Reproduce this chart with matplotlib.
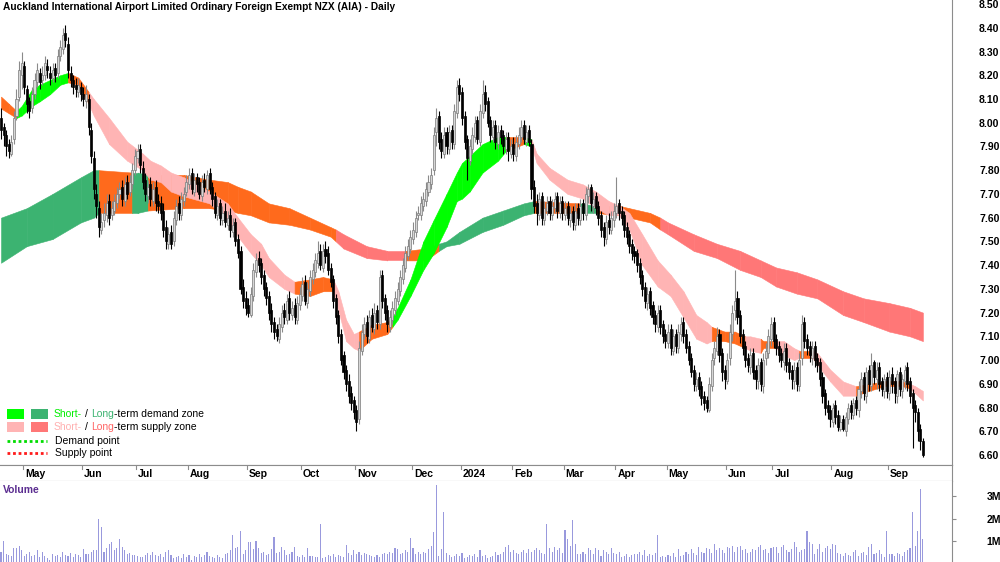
import numpy as np
import matplotlib
matplotlib.use("Agg")
import matplotlib.pyplot as plt
from matplotlib.patches import Rectangle
from matplotlib.lines import Line2D

plt.rcParams['font.family'] = ['Liberation Sans', 'DejaVu Sans']

TITLE = "Auckland International Airport Limited Ordinary Foreign Exempt NZX (AIA) - Daily"

# daily candles, 19 Apr 2023 .. 19 Sep 2024 (bar index 0..358)
opens = [
    8.02, 7.98, 7.95, 7.91, 7.87, 7.93, 8.03, 8.11, 8.20, 8.24,
    8.14, 8.09, 8.06, 8.12, 8.17, 8.21, 8.18, 8.20, 8.24, 8.21,
    8.19, 8.23, 8.21, 8.28, 8.31, 8.38, 8.33, 8.21, 8.18, 8.16,
    8.13, 8.15, 8.12, 8.09, 8.10, 7.97, 7.85, 7.70, 7.64, 7.55,
    7.59, 7.61, 7.67, 7.61, 7.63, 7.66, 7.70, 7.73, 7.67, 7.75,
    7.71, 7.74, 7.80, 7.85, 7.89, 7.81, 7.76, 7.69, 7.74, 7.67,
    7.73, 7.67, 7.66, 7.63, 7.56, 7.49, 7.54, 7.50, 7.59, 7.66,
    7.61, 7.67, 7.71, 7.74, 7.79, 7.71, 7.77, 7.75, 7.69, 7.76,
    7.72, 7.79, 7.73, 7.69, 7.61, 7.66, 7.59, 7.63, 7.57, 7.61,
    7.54, 7.58, 7.51, 7.46, 7.31, 7.26, 7.23, 7.19, 7.27, 7.37,
    7.43, 7.41, 7.36, 7.31, 7.27, 7.21, 7.16, 7.13, 7.09, 7.14,
    7.21, 7.17, 7.26, 7.19, 7.23, 7.17, 7.23, 7.27, 7.33, 7.24,
    7.29, 7.34, 7.37, 7.41, 7.46, 7.39, 7.47, 7.45, 7.39, 7.34,
    7.26, 7.19, 7.11, 7.02, 6.96, 6.91, 6.86, 6.83, 6.79, 6.75,
    7.04, 7.11, 7.16, 7.09, 7.19, 7.13, 7.21, 7.15, 7.36, 7.26,
    7.21, 7.14, 7.17, 7.21, 7.25, 7.29, 7.34, 7.39, 7.44, 7.47,
    7.51, 7.54, 7.61, 7.61, 7.65, 7.67, 7.71, 7.74, 7.80, 7.96,
    8.03, 7.93, 7.87, 7.96, 7.89, 7.97, 7.91, 8.04, 8.16, 8.13,
    8.03, 7.93, 7.84, 7.89, 7.94, 8.01, 7.92, 8.04, 8.13, 8.09,
    8.01, 7.94, 7.99, 7.91, 7.97, 7.95, 7.89, 7.94, 7.87, 7.91,
    7.86, 7.91, 7.94, 7.99, 7.92, 7.97, 7.91, 7.73, 7.66, 7.61,
    7.69, 7.59, 7.63, 7.67, 7.61, 7.64, 7.69, 7.62, 7.67, 7.61,
    7.65, 7.59, 7.63, 7.57, 7.64, 7.59, 7.66, 7.61, 7.69, 7.73,
    7.65, 7.69, 7.65, 7.61, 7.56, 7.51, 7.59, 7.55, 7.59, 7.62,
    7.66, 7.63, 7.61, 7.56, 7.53, 7.49, 7.46, 7.45, 7.41, 7.36,
    7.31, 7.24, 7.29, 7.23, 7.19, 7.14, 7.21, 7.15, 7.11, 7.07,
    7.13, 7.04, 7.11, 7.05, 7.11, 7.16, 7.11, 7.06, 7.01, 6.96,
    6.89, 6.93, 6.89, 6.85, 6.83, 6.79, 6.89, 7.01, 7.04, 7.11,
    7.03, 6.96, 6.91, 7.01, 7.11, 7.21, 7.26, 7.19, 7.11, 7.06,
    7.01, 6.97, 7.03, 6.96, 6.91, 6.99, 6.89, 7.01, 7.03, 7.09,
    7.16, 7.09, 7.06, 7.03, 6.99, 7.05, 6.99, 6.96, 6.91, 6.97,
    6.89, 7.01, 7.16, 7.09, 7.06, 7.01, 7.06, 7.01, 6.99, 6.93,
    6.86, 6.81, 6.79, 6.74, 6.81, 6.77, 6.71, 6.75, 6.70, 6.75,
    6.81, 6.77, 6.83, 6.79, 6.87, 6.93, 6.85, 6.96, 6.89, 6.99,
    6.92, 6.97, 6.91, 6.87, 6.93, 6.86, 6.94, 6.91, 6.85, 6.95,
    6.87, 6.91, 6.97, 6.91, 6.86, 6.81, 6.78, 6.71, 6.66,
]
highs = [
    8.06, 8.00, 7.97, 7.93, 7.95, 8.05, 8.14, 8.26, 8.30, 8.26,
    8.16, 8.11, 8.15, 8.21, 8.25, 8.23, 8.24, 8.28, 8.27, 8.24,
    8.25, 8.25, 8.31, 8.35, 8.40, 8.41, 8.36, 8.24, 8.20, 8.19,
    8.19, 8.17, 8.15, 8.16, 8.12, 8.00, 7.88, 7.74, 7.67, 7.62,
    7.66, 7.70, 7.70, 7.67, 7.70, 7.73, 7.75, 7.76, 7.77, 7.78,
    7.78, 7.83, 7.89, 7.91, 7.91, 7.84, 7.79, 7.76, 7.77, 7.75,
    7.76, 7.70, 7.69, 7.66, 7.59, 7.56, 7.57, 7.63, 7.68, 7.69,
    7.71, 7.73, 7.78, 7.81, 7.81, 7.79, 7.79, 7.77, 7.78, 7.79,
    7.80, 7.81, 7.75, 7.71, 7.68, 7.68, 7.65, 7.66, 7.63, 7.64,
    7.60, 7.60, 7.53, 7.48, 7.34, 7.29, 7.26, 7.31, 7.41, 7.45,
    7.46, 7.43, 7.38, 7.33, 7.29, 7.24, 7.18, 7.15, 7.18, 7.23,
    7.24, 7.28, 7.29, 7.25, 7.26, 7.27, 7.31, 7.35, 7.36, 7.33,
    7.38, 7.41, 7.45, 7.50, 7.49, 7.49, 7.50, 7.48, 7.41, 7.36,
    7.28, 7.21, 7.13, 7.04, 6.98, 6.94, 6.89, 6.85, 6.81, 7.08,
    7.15, 7.18, 7.19, 7.21, 7.22, 7.24, 7.23, 7.38, 7.38, 7.28,
    7.23, 7.21, 7.25, 7.29, 7.33, 7.38, 7.43, 7.48, 7.51, 7.55,
    7.58, 7.63, 7.65, 7.69, 7.71, 7.75, 7.78, 7.81, 7.98, 8.06,
    8.05, 7.96, 7.98, 7.98, 7.99, 7.99, 8.08, 8.18, 8.19, 8.15,
    8.05, 7.95, 7.93, 7.98, 8.03, 8.03, 8.08, 8.18, 8.16, 8.11,
    8.03, 8.01, 8.01, 7.99, 7.99, 7.97, 7.96, 7.96, 7.93, 7.94,
    7.95, 7.98, 8.01, 8.01, 7.99, 7.99, 7.93, 7.76, 7.70, 7.71,
    7.71, 7.67, 7.69, 7.69, 7.68, 7.71, 7.71, 7.69, 7.69, 7.67,
    7.67, 7.65, 7.65, 7.66, 7.66, 7.68, 7.68, 7.73, 7.74, 7.74,
    7.71, 7.71, 7.67, 7.63, 7.58, 7.61, 7.62, 7.63, 7.66, 7.77,
    7.68, 7.65, 7.63, 7.58, 7.55, 7.51, 7.48, 7.47, 7.43, 7.38,
    7.33, 7.31, 7.31, 7.25, 7.21, 7.23, 7.23, 7.17, 7.13, 7.15,
    7.15, 7.13, 7.13, 7.15, 7.18, 7.18, 7.13, 7.08, 7.03, 6.98,
    6.95, 6.95, 6.91, 6.87, 6.85, 6.93, 7.03, 7.08, 7.14, 7.13,
    7.05, 6.98, 7.03, 7.15, 7.23, 7.38, 7.29, 7.21, 7.13, 7.08,
    7.03, 7.05, 7.05, 6.98, 7.01, 7.01, 7.03, 7.07, 7.13, 7.18,
    7.18, 7.11, 7.08, 7.05, 7.07, 7.07, 7.01, 6.98, 6.99, 6.99,
    7.03, 7.19, 7.18, 7.11, 7.08, 7.08, 7.08, 7.03, 7.01, 6.95,
    6.88, 6.83, 6.81, 6.82, 6.83, 6.79, 6.77, 6.77, 6.78, 6.82,
    6.83, 6.84, 6.85, 6.91, 6.95, 6.95, 6.97, 6.98, 7.03, 7.00,
    6.99, 6.99, 6.93, 6.94, 6.95, 6.96, 6.97, 6.93, 6.96, 6.97,
    6.94, 6.98, 6.99, 6.93, 6.88, 6.83, 6.80, 6.73, 6.67,
]
lows = [
    7.93, 7.90, 7.86, 7.85, 7.86, 7.91, 8.01, 8.09, 8.14, 8.12,
    8.04, 8.02, 8.04, 8.10, 8.15, 8.14, 8.16, 8.18, 8.19, 8.16,
    8.17, 8.17, 8.19, 8.26, 8.29, 8.32, 8.19, 8.15, 8.12, 8.11,
    8.11, 8.09, 8.07, 8.06, 7.95, 7.83, 7.68, 7.60, 7.52, 7.53,
    7.56, 7.58, 7.57, 7.59, 7.61, 7.64, 7.68, 7.65, 7.65, 7.68,
    7.69, 7.72, 7.78, 7.83, 7.79, 7.72, 7.67, 7.66, 7.65, 7.65,
    7.63, 7.62, 7.59, 7.52, 7.47, 7.47, 7.47, 7.48, 7.57, 7.59,
    7.59, 7.65, 7.69, 7.72, 7.70, 7.69, 7.71, 7.68, 7.67, 7.71,
    7.70, 7.70, 7.65, 7.60, 7.59, 7.57, 7.57, 7.56, 7.55, 7.52,
    7.52, 7.48, 7.43, 7.28, 7.22, 7.19, 7.18, 7.18, 7.25, 7.35,
    7.37, 7.32, 7.27, 7.23, 7.17, 7.12, 7.09, 7.08, 7.07, 7.12,
    7.15, 7.15, 7.17, 7.17, 7.15, 7.15, 7.21, 7.25, 7.23, 7.22,
    7.27, 7.32, 7.35, 7.39, 7.38, 7.37, 7.41, 7.36, 7.31, 7.22,
    7.15, 7.07, 6.98, 6.92, 6.87, 6.82, 6.79, 6.75, 6.70, 6.73,
    7.02, 7.09, 7.07, 7.07, 7.12, 7.11, 7.13, 7.13, 7.22, 7.17,
    7.12, 7.12, 7.15, 7.19, 7.23, 7.27, 7.32, 7.37, 7.42, 7.45,
    7.49, 7.52, 7.59, 7.59, 7.63, 7.65, 7.69, 7.72, 7.78, 7.90,
    7.89, 7.85, 7.85, 7.87, 7.87, 7.89, 7.89, 8.02, 8.09, 7.99,
    7.89, 7.76, 7.82, 7.87, 7.92, 7.91, 7.90, 8.02, 8.05, 7.98,
    7.92, 7.92, 7.89, 7.89, 7.91, 7.87, 7.87, 7.84, 7.85, 7.84,
    7.84, 7.89, 7.92, 7.91, 7.90, 7.90, 7.68, 7.62, 7.57, 7.59,
    7.57, 7.57, 7.61, 7.59, 7.59, 7.62, 7.60, 7.60, 7.59, 7.59,
    7.57, 7.56, 7.55, 7.55, 7.57, 7.57, 7.59, 7.59, 7.66, 7.63,
    7.62, 7.61, 7.57, 7.52, 7.48, 7.49, 7.53, 7.53, 7.56, 7.60,
    7.59, 7.57, 7.52, 7.49, 7.45, 7.42, 7.41, 7.37, 7.32, 7.27,
    7.22, 7.21, 7.19, 7.15, 7.12, 7.12, 7.11, 7.07, 7.05, 7.05,
    7.02, 7.02, 7.03, 7.03, 7.08, 7.07, 7.03, 6.98, 6.93, 6.87,
    6.87, 6.85, 6.81, 6.79, 6.78, 6.78, 6.87, 6.98, 7.02, 6.99,
    6.91, 6.88, 6.90, 6.98, 7.08, 7.17, 7.15, 7.07, 7.02, 6.97,
    6.95, 6.94, 6.92, 6.88, 6.88, 6.87, 6.86, 6.98, 7.01, 7.06,
    7.05, 7.02, 6.99, 6.97, 6.96, 6.95, 6.92, 6.88, 6.88, 6.87,
    6.87, 6.98, 7.05, 7.02, 6.99, 6.98, 6.97, 6.95, 6.89, 6.82,
    6.77, 6.75, 6.72, 6.72, 6.73, 6.70, 6.70, 6.70, 6.68, 6.73,
    6.75, 6.75, 6.77, 6.76, 6.84, 6.83, 6.82, 6.87, 6.87, 6.90,
    6.88, 6.87, 6.85, 6.84, 6.84, 6.83, 6.86, 6.82, 6.82, 6.85,
    6.84, 6.88, 6.87, 6.82, 6.63, 6.74, 6.66, 6.62, 6.59,
]
closes = [
    7.97, 7.95, 7.90, 7.88, 7.92, 8.02, 8.10, 8.22, 8.25, 8.15,
    8.08, 8.05, 8.12, 8.18, 8.22, 8.17, 8.20, 8.25, 8.22, 8.19,
    8.22, 8.20, 8.28, 8.32, 8.37, 8.35, 8.22, 8.18, 8.15, 8.14,
    8.16, 8.12, 8.10, 8.12, 7.98, 7.86, 7.72, 7.65, 7.56, 7.58,
    7.62, 7.66, 7.60, 7.64, 7.67, 7.70, 7.72, 7.68, 7.74, 7.70,
    7.75, 7.80, 7.86, 7.88, 7.82, 7.75, 7.70, 7.73, 7.68, 7.72,
    7.66, 7.65, 7.62, 7.55, 7.50, 7.53, 7.49, 7.60, 7.65, 7.62,
    7.68, 7.70, 7.75, 7.78, 7.72, 7.76, 7.74, 7.70, 7.75, 7.73,
    7.78, 7.72, 7.68, 7.62, 7.65, 7.60, 7.62, 7.58, 7.60, 7.55,
    7.57, 7.50, 7.45, 7.30, 7.25, 7.22, 7.20, 7.28, 7.38, 7.42,
    7.40, 7.35, 7.30, 7.26, 7.20, 7.15, 7.12, 7.10, 7.15, 7.20,
    7.18, 7.25, 7.20, 7.22, 7.18, 7.24, 7.28, 7.32, 7.25, 7.30,
    7.35, 7.38, 7.42, 7.45, 7.40, 7.46, 7.44, 7.38, 7.33, 7.25,
    7.18, 7.10, 7.00, 6.95, 6.90, 6.85, 6.82, 6.78, 6.74, 7.05,
    7.12, 7.15, 7.10, 7.18, 7.14, 7.20, 7.16, 7.35, 7.25, 7.20,
    7.15, 7.18, 7.22, 7.26, 7.30, 7.35, 7.40, 7.45, 7.48, 7.52,
    7.55, 7.60, 7.62, 7.66, 7.68, 7.72, 7.75, 7.78, 7.95, 8.02,
    7.92, 7.88, 7.95, 7.90, 7.96, 7.92, 8.05, 8.15, 8.12, 8.02,
    7.92, 7.85, 7.90, 7.95, 8.00, 7.93, 8.05, 8.12, 8.08, 8.00,
    7.95, 7.98, 7.92, 7.96, 7.94, 7.90, 7.93, 7.88, 7.90, 7.87,
    7.92, 7.95, 7.98, 7.93, 7.96, 7.92, 7.72, 7.65, 7.62, 7.68,
    7.60, 7.64, 7.66, 7.62, 7.65, 7.68, 7.63, 7.66, 7.62, 7.64,
    7.60, 7.62, 7.58, 7.63, 7.60, 7.65, 7.62, 7.70, 7.72, 7.66,
    7.68, 7.64, 7.60, 7.55, 7.52, 7.58, 7.56, 7.60, 7.63, 7.65,
    7.62, 7.60, 7.55, 7.52, 7.48, 7.45, 7.44, 7.40, 7.35, 7.30,
    7.25, 7.28, 7.22, 7.18, 7.15, 7.20, 7.14, 7.10, 7.08, 7.12,
    7.05, 7.10, 7.06, 7.12, 7.15, 7.10, 7.05, 7.00, 6.95, 6.90,
    6.92, 6.88, 6.84, 6.82, 6.80, 6.90, 7.00, 7.05, 7.10, 7.02,
    6.95, 6.92, 7.00, 7.12, 7.20, 7.25, 7.18, 7.10, 7.05, 7.00,
    6.98, 7.02, 6.95, 6.92, 6.98, 6.90, 7.00, 7.04, 7.10, 7.15,
    7.08, 7.05, 7.02, 7.00, 7.04, 6.98, 6.95, 6.92, 6.96, 6.90,
    7.00, 7.15, 7.08, 7.05, 7.02, 7.05, 7.00, 6.98, 6.92, 6.85,
    6.80, 6.78, 6.75, 6.80, 6.76, 6.72, 6.74, 6.71, 6.76, 6.80,
    6.78, 6.82, 6.80, 6.88, 6.92, 6.86, 6.95, 6.90, 6.98, 6.93,
    6.96, 6.90, 6.88, 6.92, 6.87, 6.93, 6.90, 6.86, 6.94, 6.88,
    6.92, 6.96, 6.90, 6.85, 6.80, 6.78, 6.70, 6.66, 6.60,
]
volume_m = [
    0.55, 1.00, 0.45, 0.40, 0.35, 0.70, 0.70, 0.80, 0.60, 0.35,
    0.45, 0.55, 0.35, 0.40, 0.60, 0.30, 0.55, 0.35, 0.25, 0.20,
    0.45, 0.35, 0.40, 0.30, 0.55, 0.40, 0.35, 0.50, 0.30, 0.45,
    0.40, 0.30, 0.65, 0.45, 0.45, 0.55, 0.60, 0.60, 2.00, 1.65,
    0.55, 0.70, 0.90, 0.95, 0.60, 0.70, 1.10, 0.75, 0.60, 0.45,
    0.50, 0.40, 0.40, 0.35, 0.30, 0.30, 0.40, 0.50, 0.40, 0.55,
    0.40, 0.35, 0.45, 0.30, 0.55, 0.60, 0.40, 0.25, 0.30, 0.35,
    0.25, 0.45, 0.30, 0.40, 0.20, 0.35, 0.30, 0.45, 0.30, 0.40,
    0.55, 0.35, 0.30, 0.25, 0.40, 0.30, 0.25, 0.45, 0.50, 0.60,
    1.30, 0.70, 0.75, 1.45, 0.45, 0.60, 0.95, 0.95, 0.65, 1.00,
    0.70, 0.50, 0.55, 0.40, 0.45, 0.65, 1.20, 0.50, 0.55, 0.75,
    0.60, 0.40, 0.45, 0.55, 0.75, 0.35, 0.30, 0.40, 0.30, 0.70,
    0.35, 0.35, 0.30, 0.30, 1.75, 0.25, 0.30, 0.40, 0.35, 0.45,
    0.30, 0.40, 0.35, 0.30, 0.85, 0.50, 0.40, 0.60, 0.45, 0.55,
    0.40, 0.50, 0.45, 0.40, 0.35, 0.30, 0.40, 0.30, 0.45, 0.50,
    0.45, 0.55, 0.50, 0.70, 0.65, 0.45, 0.50, 0.60, 0.55, 1.15,
    0.70, 0.45, 0.55, 0.45, 0.55, 0.50, 0.65, 0.80, 1.43, 3.48,
    0.35, 0.65, 2.30, 0.50, 0.40, 0.30, 0.35, 0.45, 0.35, 0.50,
    0.25, 0.30, 0.40, 0.35, 0.45, 0.30, 0.60, 0.35, 0.40, 0.25,
    0.30, 0.35, 0.55, 0.40, 0.45, 0.55, 0.75, 0.85, 0.55, 0.60,
    0.50, 0.45, 0.55, 0.60, 0.50, 0.65, 0.55, 0.60, 0.70, 0.60,
    0.50, 0.45, 1.75, 0.70, 0.55, 0.75, 0.60, 0.70, 0.50, 1.50,
    1.10, 0.80, 1.92, 0.90, 0.45, 0.45, 0.55, 0.45, 0.70, 0.60,
    0.45, 0.70, 0.60, 0.35, 0.60, 0.55, 0.45, 0.70, 0.50, 0.45,
    0.55, 0.30, 0.35, 0.45, 0.30, 0.40, 0.45, 0.45, 0.55, 0.40,
    0.60, 0.35, 0.45, 0.40, 0.50, 1.30, 0.30, 0.35, 0.30, 0.40,
    0.35, 0.50, 0.30, 0.65, 0.35, 0.40, 0.55, 0.45, 0.65, 0.50,
    0.40, 0.75, 0.55, 0.50, 0.70, 0.65, 0.50, 0.90, 0.60, 0.70,
    0.60, 0.50, 0.75, 0.70, 0.80, 0.55, 0.75, 0.80, 0.60, 0.65,
    0.50, 0.55, 0.65, 0.60, 0.75, 0.85, 0.60, 0.65, 0.50, 0.70,
    0.75, 0.75, 0.50, 0.75, 0.85, 0.60, 0.55, 0.65, 0.95, 0.75,
    0.55, 0.60, 0.65, 1.45, 0.95, 0.90, 0.45, 0.65, 0.90, 0.55,
    0.70, 0.80, 0.65, 0.90, 0.85, 0.50, 0.45, 0.35, 0.50, 0.40,
    0.35, 0.55, 0.60, 0.35, 0.50, 0.55, 0.40, 0.75, 0.90, 0.45,
    0.50, 0.60, 0.45, 0.30, 1.45, 0.45, 0.45, 0.35, 0.50, 0.45,
    0.35, 0.55, 0.60, 0.70, 2.30, 0.80, 1.45, 3.30, 1.10,
]

# short-term zone band, knots at bar index; zone letter colours the piece to the next knot
short_x = [0, 3, 6, 8, 12, 15, 19, 23, 26, 30, 34, 36, 42, 49, 55, 58, 62, 66, 71, 81,
           88, 92, 97, 101, 104, 110, 114, 120, 125, 129, 131, 134, 137, 139, 144, 150,
           152, 154, 159, 164, 168, 173, 177, 179, 182, 187, 193, 196, 203, 206, 208,
           213, 220, 226, 231, 236, 240, 244, 249, 255, 260, 265, 270, 274, 276, 281,
           285, 289, 291, 295, 296, 301, 304, 308, 310, 315, 317, 322, 327, 332, 337,
           343, 350, 353, 355, 358]
short_hi = [8.11, 8.08, 8.05, 8.07, 8.14, 8.16, 8.18, 8.20, 8.21, 8.19, 8.13, 8.10, 8.02,
            7.92, 7.87, 7.84, 7.82, 7.79, 7.77, 7.71, 7.66, 7.60, 7.53, 7.49, 7.43, 7.36,
            7.33, 7.34, 7.35, 7.34, 7.29, 7.17, 7.11, 7.12, 7.15, 7.16, 7.18, 7.22, 7.34,
            7.50, 7.59, 7.70, 7.79, 7.83, 7.86, 7.91, 7.94, 7.94, 7.94, 7.93, 7.87, 7.81,
            7.76, 7.74, 7.71, 7.67, 7.65, 7.62, 7.53, 7.42, 7.36, 7.29, 7.19, 7.16, 7.14,
            7.12, 7.12, 7.10, 7.10, 7.09, 7.08, 7.08, 7.08, 7.05, 7.04, 7.04, 7.03, 6.96,
            6.91, 6.89, 6.90, 6.91, 6.91, 6.90, 6.89, 6.87]
short_lo = [8.06, 8.04, 8.02, 8.03, 8.07, 8.09, 8.12, 8.16, 8.17, 8.16, 8.08, 8.03, 7.91,
            7.84, 7.80, 7.76, 7.75, 7.71, 7.69, 7.66, 7.59, 7.52, 7.45, 7.40, 7.35, 7.30,
            7.28, 7.27, 7.29, 7.29, 7.21, 7.08, 7.05, 7.04, 7.09, 7.11, 7.14, 7.17, 7.27,
            7.38, 7.45, 7.56, 7.67, 7.68, 7.71, 7.79, 7.84, 7.88, 7.91, 7.90, 7.83, 7.76,
            7.70, 7.68, 7.64, 7.61, 7.61, 7.55, 7.40, 7.31, 7.27, 7.18, 7.09, 7.07, 7.08,
            7.08, 7.07, 7.05, 7.04, 7.03, 7.05, 7.05, 7.02, 7.00, 7.01, 7.01, 6.98, 6.91,
            6.85, 6.85, 6.87, 6.89, 6.89, 6.88, 6.86, 6.83]
short_zone = ("OOGGGGGGOO" "PPPPPPPPPPPPPPPP" "OOOPPPPOOO" "GGGGGGGGGGG" "OG"
              "PPPPPPPPPPPPPPP" "OOOPPOOPPPOPPPPOOOOPP")

# long-term zone band
long_x = [0, 10, 20, 31, 36, 38, 51, 53, 57, 71, 81, 88, 92, 97, 104, 112, 120, 128, 130,
          133, 142, 150, 157, 165, 170, 173, 178, 187, 195, 203, 207, 225, 231, 240, 244,
          252, 256, 259, 269, 278, 287, 295, 301, 309, 317, 327, 335, 345, 353, 358]
long_hi = [7.60, 7.64, 7.70, 7.77, 7.80, 7.80, 7.79, 7.79, 7.78, 7.78, 7.76, 7.75, 7.73,
           7.71, 7.66, 7.64, 7.60, 7.56, 7.55, 7.53, 7.48, 7.46, 7.46, 7.47, 7.49, 7.50,
           7.54, 7.60, 7.63, 7.66, 7.67, 7.66, 7.65, 7.65, 7.64, 7.62, 7.60, 7.58, 7.53,
           7.49, 7.46, 7.42, 7.39, 7.37, 7.34, 7.29, 7.26, 7.24, 7.22, 7.20]
long_lo = [7.41, 7.48, 7.51, 7.58, 7.60, 7.62, 7.62, 7.62, 7.63, 7.64, 7.64, 7.63, 7.62,
           7.61, 7.58, 7.57, 7.55, 7.52, 7.50, 7.47, 7.43, 7.42, 7.42, 7.42, 7.46, 7.48,
           7.49, 7.54, 7.57, 7.61, 7.62, 7.62, 7.62, 7.61, 7.60, 7.58, 7.55, 7.53, 7.46,
           7.43, 7.38, 7.35, 7.31, 7.28, 7.26, 7.19, 7.16, 7.12, 7.10, 7.08]
long_zone = ("DDDDDO" "DD" "OOOOOOOOOO" "RRRR" "OO" "DDDDDD" "O" "D" "OOOO"
             "RRRRRRRRRRRRR")

month_labels = ["May", "Jun", "Jul", "Aug", "Sep", "Oct", "Nov", "Dec", "2024",
                "Feb", "Mar", "Apr", "May", "Jun", "Jul", "Aug", "Sep"]
month_first_bar = [9, 32, 53, 73, 96, 117, 138, 160, 179, 199, 219, 239, 259, 282, 300, 323, 345]

price_ticks = [6.60, 6.70, 6.80, 6.90, 7.00, 7.10, 7.20, 7.30, 7.40, 7.50,
               7.60, 7.70, 7.80, 7.90, 8.00, 8.10, 8.20, 8.30, 8.40, 8.50]
volume_ticks = [1, 2, 3]

n = len(closes)
assert len(opens) == n and len(highs) == n and len(lows) == n and len(volume_m) == n, \
    (len(opens), len(highs), len(lows), n, len(volume_m))
assert len(short_hi) == len(short_x) == len(short_lo) and len(short_zone) == len(short_x) - 1, \
    (len(short_x), len(short_hi), len(short_lo), len(short_zone))
assert len(long_hi) == len(long_x) == len(long_lo) and len(long_zone) == len(long_x) - 1, \
    (len(long_x), len(long_hi), len(long_lo), len(long_zone))

ZONE = {
    'G': '#00ff00',   # short-term demand
    'D': '#3cb371',   # long-term demand
    'P': '#ffb4b4',   # short-term supply
    'R': '#ff7777',   # long-term supply
    'O': '#ff6a1c',   # mixed
}
GRID = '#8c8c8c'

W, H = 1000, 562
AX_R = 952 / W
fig = plt.figure(figsize=(10, 5.62), dpi=100)

ax = fig.add_axes([0, (H - 465) / H, AX_R, 465 / H])
xlim = (-0.4, 369.3)
ax.set_xlim(*xlim)
ax.set_ylim(6.558, 8.517)


def draw_band(xs, hi, lo, zones, z):
    for k in range(len(xs) - 1):
        c = ZONE[zones[k]]
        ax.fill_between(xs[k:k + 2], lo[k:k + 2], hi[k:k + 2], color=c, ec=c, lw=0.4, zorder=z)


draw_band(long_x, long_hi, long_lo, long_zone, 1)
draw_band(short_x, short_hi, short_lo, short_zone, 2)

x = np.arange(n)
o = np.array(opens)
c = np.array(closes)
hi = np.array(highs)
lo = np.array(lows)
up = c >= o
ax.vlines(x[up], lo[up], hi[up], color='#8a8a8a', lw=0.8, zorder=3)
ax.vlines(x[~up], lo[~up], hi[~up], color='black', lw=0.8, zorder=3)
body_lo = np.minimum(o, c)
body_h = np.maximum(np.abs(c - o), 0.005)
ax.bar(x[up], body_h[up], bottom=body_lo[up], width=0.8, color='#d6d6d6',
       edgecolor='#7a7a7a', lw=0.5, zorder=4)
ax.bar(x[~up], body_h[~up], bottom=body_lo[~up], width=0.8, color='black',
       edgecolor='black', lw=0.5, zorder=4)

for s in ('top', 'left'):
    ax.spines[s].set_visible(False)
for s in ('bottom', 'right'):
    ax.spines[s].set_color(GRID)
ax.set_xticks([])
ax.yaxis.tick_right()
ax.set_yticks(price_ticks)
ax.set_yticklabels([f"{v:.2f}" for v in price_ticks], fontweight='bold')
ax.tick_params(axis='y', length=0, pad=19.5, labelsize=7.5)

# month strip
ax_d = fig.add_axes([0, (H - 481) / H, AX_R, 16 / H])
ax_d.set_xlim(*xlim)
ax_d.set_ylim(0, 1)
ax_d.set_xticks([])
ax_d.set_yticks([])
ax_d.spines['left'].set_visible(False)
for s in ('top', 'bottom', 'right'):
    ax_d.spines[s].set_color(GRID)
for m, lab in zip(month_first_bar, month_labels):
    ax_d.plot([m - 0.5, m - 0.5], [1, 0.78], color=GRID, lw=0.8)
    ax_d.text(m + 0.3, 0.42, lab, fontsize=7.5, fontweight='bold', va='center', ha='left')

# volume pane
ax_v = fig.add_axes([0, 0, AX_R, 81 / H])
ax_v.set_xlim(*xlim)
ax_v.set_ylim(0.09, 3.66)
ax_v.bar(x, volume_m, width=0.42, color='#9999dd', lw=0)
for s in ('top', 'left', 'bottom'):
    ax_v.spines[s].set_visible(False)
ax_v.spines['right'].set_color(GRID)
ax_v.set_xticks([])
ax_v.yaxis.tick_right()
ax_v.set_yticks(volume_ticks)
ax_v.set_yticklabels([f"{v}M" for v in volume_ticks], fontweight='bold')
ax_v.tick_params(axis='y', length=3, width=0.8, color=GRID, pad=22, labelsize=7.5)
ax_v.text(3 / 952, 0.89, "Volume", transform=ax_v.transAxes, color='#5b2d90',
          fontsize=7.5, fontweight='bold', va='center', ha='left')

# title
fig.text(3 / W, 1 - 7 / H, TITLE, fontsize=7.3, fontweight='bold', va='center', ha='left')

# legend, in pixel positions
renderer = fig.canvas.get_renderer()


def px(xp, yp):
    return xp / W, 1 - yp / H


def chain(x0, y0, pieces):
    xp = x0
    for s, col, gap in pieces:
        t = fig.text(*px(xp, y0), s, color=col, fontsize=7.5, va='center', ha='left')
        xp += t.get_window_extent(renderer).width + gap


for (yc, c1, c2) in ((414, ZONE['G'], ZONE['D']), (427, ZONE['P'], ZONE['R'])):
    for xl, col in ((7, c1), (31, c2)):
        fig.add_artist(Rectangle(px(xl, yc + 5), 17 / W, 10 / H, transform=fig.transFigure,
                                 color=col, lw=0))
chain(54, 414, [("Short-", '#00ee00', 3), ("/", 'black', 3), ("Long", '#3cb371', 0),
                ("-term demand zone", 'black', 0)])
chain(54, 427, [("Short-", '#ffb0b0', 3), ("/", 'black', 3), ("Long", '#ff6666', 0),
                ("-term supply zone", 'black', 0)])
for yc, col, lab in ((441, '#00dd00', "Demand point"), (453, '#ff1a1a', "Supply point")):
    fig.add_artist(Line2D([7 / W, 47 / W], [1 - yc / H] * 2, transform=fig.transFigure,
                          color=col, lw=2, linestyle=(0, (1, 1))))
    fig.text(*px(55, yc), lab, fontsize=7.5, va='center', ha='left')

fig.savefig("out.png", dpi=100)
